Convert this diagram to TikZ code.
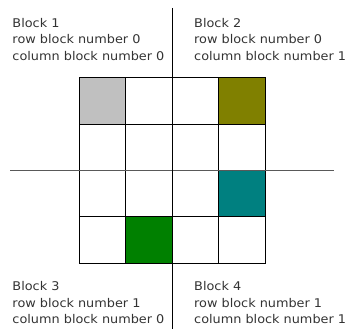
\documentclass[tikz,border=0pt]{standalone}
\usepackage{fontspec}
\setmainfont[FakeStretch=1.07]{DejaVu Sans}

\definecolor{cellsilver}{RGB}{192,192,192}
\definecolor{cellolive}{RGB}{128,128,0}
\definecolor{cellteal}{RGB}{0,128,128}
\definecolor{cellgreen}{RGB}{0,128,0}

\tikzset{
  cell/.style={draw=black, line width=1pt, fill=white, minimum size=46.4pt, inner sep=0pt, outer sep=0pt},
  tint 00/.style={fill=cellsilver},
  tint 03/.style={fill=cellolive},
  tint 23/.style={fill=cellteal},
  tint 31/.style={fill=cellgreen},
  blocktext/.style={anchor=base west, align=left, inner sep=0pt, text=black!80,
                    font=\fontsize{12}{16.5}\selectfont},
}

\begin{document}
\begin{tikzpicture}[x=1pt, y=-1pt]
    \useasboundingbox (0,0) rectangle (347,329);

    % axes
    \coordinate (vtop) at (172.7,8);
    \coordinate (vbot) at (172.7,329);
    \coordinate (hleft) at (10,170.5);
    \coordinate (hright) at (334,170.5);

    % 4x4 matrix
    \foreach \r in {0,...,3}
        \foreach \c in {0,...,3}
            \node[cell, tint \r\c/.try] (c\r\c) at ({102.7+46.4*\c},{100.9+46.4*\r}) {};

    \draw[line width=1.2pt, black!65] (hleft) -- (hright);
    \draw[line width=1.2pt, black] (vtop) -- (vbot);

    % block labels (anchored on the last line)
    \node[blocktext] (blk1) at (12.3,60.3) {Block 1\\row block number 0\\column block number 0};
    \node[blocktext] (blk2) at (194,60.3) {Block 2\\row block number 0\\column block number 1};
    \node[blocktext] (blk3) at (12.3,323.7) {Block 3\\row block number 1\\column block number 0};
    \node[blocktext] (blk4) at (194,323.7) {Block 4\\row block number 1\\column block number 1};
\end{tikzpicture}
\end{document}
